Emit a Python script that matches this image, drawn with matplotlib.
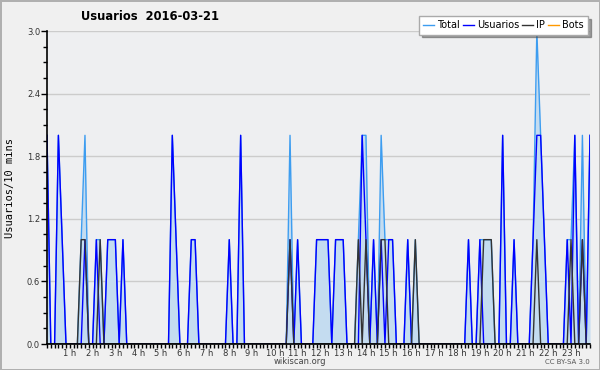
import numpy as np
import matplotlib
matplotlib.use("Agg")
import matplotlib.pyplot as plt
from matplotlib.ticker import MultipleLocator

# 10-minute slots, 144 per day
usuarios = [2, 0, 0, 2, 1, 0, 0, 0, 0, 0, 1, 0, 0, 1, 0, 0, 1, 1, 1, 0,
            1, 0, 0, 0, 0, 0, 0, 0, 0, 0, 0, 0, 0, 2, 1, 0, 0, 0, 1, 1,
            0, 0, 0, 0, 0, 0, 0, 0, 1, 0, 0, 2, 0, 0, 0, 0, 0, 0, 0, 0,
            0, 0, 0, 0, 1, 0, 1, 0, 0, 0, 0, 1, 1, 1, 1, 0, 1, 1, 1, 0,
            0, 0, 0, 2, 1, 0, 1, 0, 1, 0, 1, 1, 0, 0, 0, 1, 0, 0, 0, 0,
            0, 0, 0, 0, 0, 0, 0, 0, 0, 0, 0, 1, 0, 0, 1, 0, 0, 0, 0, 0,
            2, 0, 0, 1, 0, 0, 0, 0, 1, 2, 2, 1, 0, 0, 0, 0, 0, 1, 0, 2,
            0, 1, 0, 2]
ip = [0, 0, 0, 0, 0, 0, 0, 0, 0, 1, 1, 0, 0, 0, 1, 0, 0, 0, 0, 0,
      0, 0, 0, 0, 0, 0, 0, 0, 0, 0, 0, 0, 0, 0, 0, 0, 0, 0, 0, 0,
      0, 0, 0, 0, 0, 0, 0, 0, 0, 0, 0, 0, 0, 0, 0, 0, 0, 0, 0, 0,
      0, 0, 0, 0, 1, 0, 0, 0, 0, 0, 0, 0, 0, 0, 0, 0, 0, 0, 0, 0,
      0, 0, 1, 0, 1, 0, 0, 0, 1, 1, 0, 0, 0, 0, 0, 0, 0, 1, 0, 0,
      0, 0, 0, 0, 0, 0, 0, 0, 0, 0, 0, 0, 0, 0, 0, 1, 1, 1, 0, 0,
      0, 0, 0, 0, 0, 0, 0, 0, 0, 1, 0, 0, 0, 0, 0, 0, 0, 0, 1, 0,
      0, 1, 0, 0]
bots = [0] * 144
total = [u + i + b for u, i, b in zip(usuarios, ip, bots)]

hour_labels = ["%d h" % h for h in range(1, 24)]

x = np.arange(len(total))

fig = plt.figure(figsize=(6, 3.7), dpi=100, facecolor="#f0f0f0",
                 edgecolor="#b0b0b0", linewidth=2)
ax = fig.add_axes([47/600, 26/370, 543/600, 313/370])
ax.set_facecolor("#eeeff1")

ax.fill_between(x, total, color="#c4dcf0", lw=0)
ax.plot(x, total, color="#3d9df0", lw=1, label="Total")
ax.plot(x, usuarios, color="#0000ff", lw=1, label="Usuarios")
ax.plot(x, ip, color="#333333", lw=1, label="IP")
ax.plot(x, bots, color="#ff9900", lw=1, label="Bots", alpha=0)

ax.set_xlim(0, len(total) - 1)
ax.set_ylim(0, 3.0)

ax.yaxis.set_major_locator(MultipleLocator(0.6))
ax.yaxis.set_minor_locator(MultipleLocator(0.15))
ax.set_yticklabels(["%.1f" % v for v in ax.get_yticks()])
ax.set_xticks(np.arange(6, 144, 6))
ax.set_xticklabels(hour_labels)
ax.xaxis.set_minor_locator(MultipleLocator(1))
ax.tick_params(axis="y", which="major", labelsize=6, labelcolor="#333333",
               length=4, width=1, pad=1)
ax.tick_params(axis="x", which="major", labelsize=6, labelcolor="#333333",
               length=3, width=1, pad=0.5)
ax.tick_params(axis="both", which="minor", length=3, width=1)

ax.grid(axis="y", color="#cccccc", lw=1)
ax.set_axisbelow(True)
for s in ["top", "right"]:
    ax.spines[s].set_visible(False)
ax.spines["left"].set_linewidth(1.2)
ax.spines["bottom"].set_linewidth(1.2)

ax.set_ylabel("Usuarios/10 mins", family="DejaVu Sans Mono", fontsize=7.5, labelpad=0)
ax.yaxis.set_label_coords(-32/543, 0.5)

fig.text(150/600, 1 - 17/370, "Usuarios  2016-03-21", ha="center", va="center",
         fontsize=8.3, fontweight="bold")
fig.text(300/600, 1 - 362/370, "wikiscan.org", ha="center", va="center",
         fontsize=6, color="#444444")
fig.text(590/600, 1 - 362/370, "CC BY-SA 3.0", ha="right", va="center",
         fontsize=5, color="#555555")

leg = fig.legend(loc="upper right", bbox_to_anchor=(593/600, 1 - 11/370), ncol=4,
                 fontsize=7, handlelength=1.1, handletextpad=0.35, columnspacing=0.3,
                 borderpad=0.45, fancybox=False, shadow=True, framealpha=1,
                 edgecolor="#aaaaaa")
for h in leg.legend_handles:
    h.set_alpha(1)

fig.savefig("out.png", dpi=100, facecolor=fig.get_facecolor(), edgecolor=fig.get_edgecolor())
